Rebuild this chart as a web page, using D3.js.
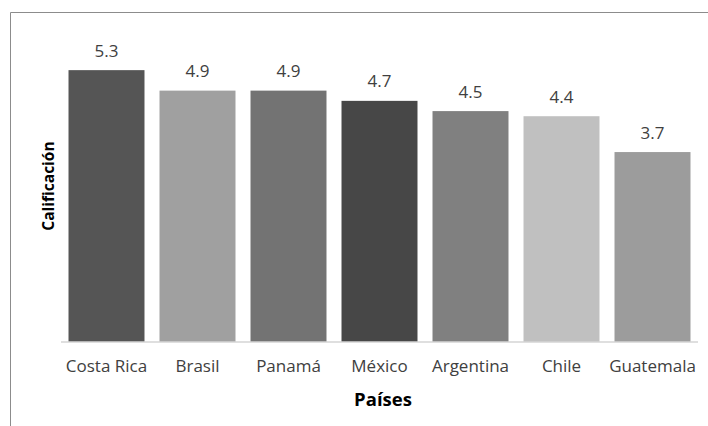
<!DOCTYPE html>
<html>
<head>
<meta charset="utf-8">
<script src="https://cdn.jsdelivr.net/npm/d3@7"></script>
<style>
  html, body { margin: 0; padding: 0; background: #ffffff; }
  svg { display: block; font-family: "Open Sans", sans-serif; }
</style>
</head>
<body>
<div id="chart"></div>
<script>
const countries = ["Costa Rica", "Brasil", "Panamá", "México", "Argentina", "Chile", "Guatemala"];
const scores = [5.3, 4.9, 4.9, 4.7, 4.5, 4.4, 3.7];
const barColors = ["#555555", "#a0a0a0", "#737373", "#474747", "#808080", "#c0c0c0", "#9c9c9c"];

const width = 708;
const height = 426;

const svg = d3.select("#chart")
  .append("svg")
  .attr("width", width)
  .attr("height", height);

// chart frame (only left and top edges visible in the crop)
svg.append("path")
  .attr("d", `M10.5,${height} V12.5 H${width}`)
  .attr("fill", "none")
  .attr("stroke", "#8c8c8c")
  .attr("stroke-width", 1);

const x = d3.scaleBand()
  .domain(countries)
  .range([61, 698])
  .paddingInner(0.165)
  .paddingOuter(0.0825);

const y = d3.scaleLinear()
  .domain([0, 6])
  .range([341.5, 34.3]);

const rows = countries.map((c, i) => ({ country: c, value: scores[i], color: barColors[i] }));

svg.selectAll(".bar")
  .data(rows)
  .enter()
  .append("rect")
  .attr("class", "bar")
  .attr("x", d => x(d.country))
  .attr("y", d => y(d.value))
  .attr("width", x.bandwidth())
  .attr("height", d => y(0) - y(d.value))
  .attr("fill", d => d.color);

// baseline
const xAxis = svg.append("g")
  .attr("transform", `translate(0, ${y(0)})`)
  .call(d3.axisBottom(x).tickSize(0).tickPadding(18.5));

xAxis.select(".domain")
  .attr("d", `M61,0.5H698`)
  .attr("stroke", "#bfbfbf");

xAxis.selectAll("text")
  .attr("font-family", "Open Sans, sans-serif")
  .attr("font-size", "17px")
  .attr("fill", "#404040");

svg.selectAll(".value-label")
  .data(rows)
  .enter()
  .append("text")
  .attr("class", "value-label")
  .attr("x", d => x(d.country) + x.bandwidth() / 2)
  .attr("y", d => y(d.value) - 13.5)
  .attr("text-anchor", "middle")
  .attr("font-size", "17px")
  .attr("fill", "#404040")
  .text(d => d.value.toFixed(1));

svg.append("text")
  .attr("x", 383)
  .attr("y", 406)
  .attr("text-anchor", "middle")
  .attr("font-size", "18.5px")
  .attr("font-weight", "700")
  .attr("fill", "#000000")
  .text("Países");

svg.append("text")
  .attr("transform", "translate(54, 186) rotate(-90)")
  .attr("text-anchor", "middle")
  .attr("font-size", "15.5px")
  .attr("font-weight", "700")
  .attr("fill", "#000000")
  .text("Calificación");
</script>
</body>
</html>
